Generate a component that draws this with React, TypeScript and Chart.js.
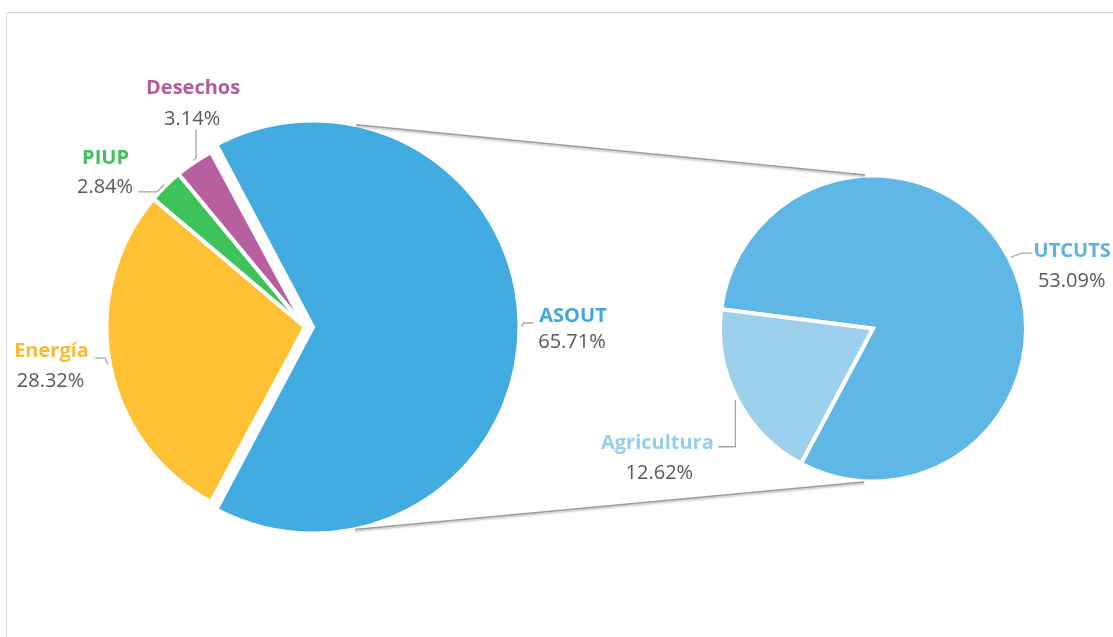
import React, { useEffect, useRef } from "react";
import { Chart, registerables } from "chart.js";

Chart.register(...registerables);

// ---------- data ----------
const mainCategories = ["ASOUT", "Energía", "PIUP", "Desechos"];
const mainValues = [65.71, 28.32, 2.84, 3.14];
const subCategories = ["UTCUTS", "Agricultura"];
const subValues = [53.09, 12.62];

// ---------- styles ----------
const mainFill = ["#42ACE1", "#FEC133", "#3DC35A", "#B85FA0"];
const mainText = ["#3FA8DD", "#F8BC3B", "#3FBF5A", "#B55A9C"];
const subFill = ["#5EB7E4", "#9DD0EC"];
const subText = ["#5AB3E0", "#98CDEA"];
const valueColor = "#595959";
const leaderColor = "#A6A6A6";
const FONT = '"Open Sans", sans-serif';
const FONT_SIZE = 20;

// label layout relative to the anchor point on each slice's outer edge
type Layout = { lead: number[][]; name: number[]; value: number[] };
const mainLayout: Layout[] = [
  { lead: [[1.5, -4], [11.5, -4]], name: [51.5, -5.3], value: [50.5, 21.3] },
  { lead: [[-3, -6.4], [-13, -6.4]], name: [-56.5, -7.7], value: [-57.5, 22.3] },
  { lead: [[-7, 7.5], [-26, 7.5]], name: [-58.5, -20.2], value: [-59, 8.8] },
  { lead: [[3, -3], [3, -31]], name: [0, -66.3], value: [-1, -35.6] },
];
const subLayout: Layout[] = [
  { lead: [[11.4, -4.2], [21.4, -4.2]], name: [61.5, -0.5], value: [61, 29.5] },
  { lead: [[0, 47], [-17, 47]], name: [-78, 49.5], value: [-76, 79.5] },
];

const BORDER = 4;

function arcGeom(arc: any) {
  const p = arc.getProps(["x", "y", "startAngle", "endAngle", "outerRadius"], true);
  const mid = (p.startAngle + p.endAngle) / 2;
  const off = (arc.options.offset || 0) / 4;
  const circ = p.endAngle - p.startAngle;
  const fix = 1 - Math.sin(Math.min(Math.PI, circ));
  const cx = p.x + Math.cos(mid) * off;
  const cy = p.y + Math.sin(mid) * off;
  const r = p.outerRadius + off * fix;
  return { cx, cy, r, mid };
}

function makeLabelPlugin(id: string, cats: string[], vals: number[], colors: string[], layout: Layout[]) {
  return {
    id,
    afterDatasetsDraw(chart: any) {
      const ctx = chart.ctx as CanvasRenderingContext2D;
      const meta = chart.getDatasetMeta(0);
      meta.data.forEach((arc: any, i: number) => {
        const g = arcGeom(arc);
        const ax = g.cx + Math.cos(g.mid) * (g.r + 2);
        const ay = g.cy + Math.sin(g.mid) * (g.r + 2);
        const L = layout[i];
        ctx.save();
        ctx.strokeStyle = leaderColor;
        ctx.lineWidth = 1.3;
        ctx.beginPath();
        ctx.moveTo(ax, ay);
        L.lead.forEach((pt) => ctx.lineTo(ax + pt[0], ay + pt[1]));
        ctx.stroke();
        ctx.textAlign = "center";
        ctx.textBaseline = "alphabetic";
        ctx.font = `bold ${FONT_SIZE}px ${FONT}`;
        ctx.fillStyle = colors[i];
        ctx.fillText(cats[i], ax + L.name[0], ay + L.name[1]);
        ctx.font = `${FONT_SIZE}px ${FONT}`;
        ctx.fillStyle = valueColor;
        ctx.fillText(vals[i].toFixed(2) + "%", ax + L.value[0], ay + L.value[1]);
        ctx.restore();
      });
    },
  };
}

function makeConnectorPlugin(getLeft: () => any) {
  return {
    id: "connector",
    afterDatasetsDraw(chart: any) {
      const left = getLeft();
      if (!left) return;
      const a = arcGeom(left.getDatasetMeta(0).data[0]);
      const b = arcGeom(chart.getDatasetMeta(0).data[0]);
      const r1 = a.r - BORDER / 2 + 1;
      const r2 = b.r - BORDER / 2 + 1;
      const dx = b.cx - a.cx;
      const dy = b.cy - a.cy;
      const d = Math.hypot(dx, dy);
      const ux = dx / d;
      const uy = dy / d;
      const k = (r1 - r2) / d;
      const h = Math.sqrt(1 - k * k);
      const ctx = chart.ctx as CanvasRenderingContext2D;
      ctx.save();
      ctx.strokeStyle = "#9C9C9C";
      ctx.lineWidth = 1.6;
      ctx.shadowColor = "rgba(0,0,0,0.28)";
      ctx.shadowBlur = 2;
      ctx.shadowOffsetY = 1.5;
      [-1, 1].forEach((s) => {
        const nx = k * ux - s * h * uy;
        const ny = k * uy + s * h * ux;
        const p1x = a.cx + r1 * nx, p1y = a.cy + r1 * ny;
        const p2x = b.cx + r2 * nx, p2y = b.cy + r2 * ny;
        const len = Math.hypot(p2x - p1x, p2y - p1y);
        const tx = (p2x - p1x) / len, ty = (p2y - p1y) / len;
        ctx.beginPath();
        ctx.moveTo(p1x + tx * 23, p1y + ty * 23);
        ctx.lineTo(p2x - tx * 23, p2y - ty * 23);
        ctx.stroke();
      });
      ctx.restore();
    },
  };
}

export default function App() {
  const leftRef = useRef<HTMLCanvasElement>(null);
  const rightRef = useRef<HTMLCanvasElement>(null);

  useEffect(() => {
    document.body.style.margin = "0";
    const total = mainValues.reduce((s, v) => s + v, 0);
    const mainRotation = 90 - (mainValues[0] / total) * 180;

    const left = new Chart(leftRef.current as HTMLCanvasElement, {
      type: "pie",
      data: {
        labels: mainCategories,
        datasets: [
          {
            data: mainValues,
            backgroundColor: mainFill,
            borderColor: "#ffffff",
            borderWidth: BORDER,
            borderJoinStyle: "miter",
            offset: [32, 0, 0, 0],
            hoverOffset: 0,
            radius: 198.5,
            rotation: mainRotation,
          } as any,
        ],
      },
      options: {
        animation: false,
        responsive: true,
        maintainAspectRatio: false,
        events: [],
        layout: { padding: { left: 0, right: 503, top: 17, bottom: 0 } },
        plugins: { legend: { display: false }, tooltip: { enabled: false } },
      } as any,
      plugins: [makeLabelPlugin("mainLabels", mainCategories, mainValues, mainText, mainLayout)],
    });

    const right = new Chart(rightRef.current as HTMLCanvasElement, {
      type: "pie",
      data: {
        labels: subCategories,
        datasets: [
          {
            data: subValues,
            backgroundColor: subFill,
            borderColor: "#ffffff",
            borderWidth: BORDER,
            borderJoinStyle: "miter",
            hoverOffset: 0,
            radius: 153,
            rotation: 277.2,
          } as any,
        ],
      },
      options: {
        animation: false,
        responsive: true,
        maintainAspectRatio: false,
        events: [],
        layout: { padding: { left: 633, right: 0, top: 20, bottom: 0 } },
        plugins: { legend: { display: false }, tooltip: { enabled: false } },
      } as any,
      plugins: [
        makeLabelPlugin("subLabels", subCategories, subValues, subText, subLayout),
        makeConnectorPlugin(() => left),
      ],
    });

    return () => {
      right.destroy();
      left.destroy();
    };
  }, []);

  const layer: React.CSSProperties = { position: "absolute", left: 0, top: 0, width: 1113, height: 637 };
  return (
    <div style={{ position: "relative", width: 1113, height: 637, overflow: "hidden", background: "#fff" }}>
      <div
        style={{
          position: "absolute",
          left: 6,
          top: 12,
          width: 1200,
          height: 700,
          border: "1px solid #D9D9D9",
        }}
      />
      <div style={layer}>
        <canvas ref={leftRef} />
      </div>
      <div style={layer}>
        <canvas ref={rightRef} />
      </div>
    </div>
  );
}
